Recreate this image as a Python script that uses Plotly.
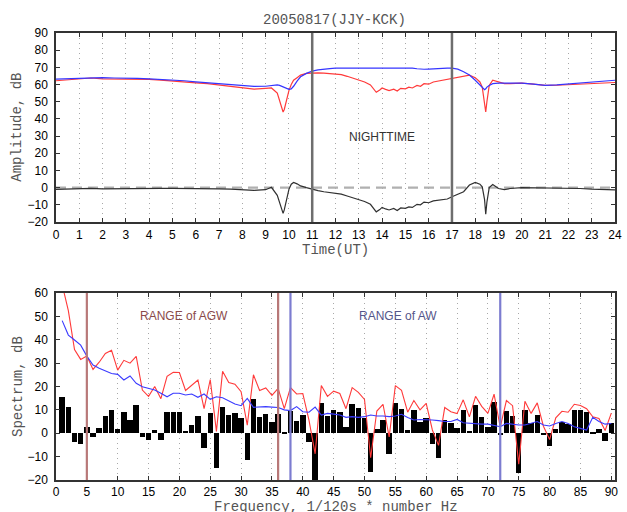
import plotly.graph_objects as go

# ---------------- top panel data (time in UT hours) ----------------
time_ut = [0, 0.5, 1, 1.5, 2, 2.5, 3, 3.5, 4, 4.5, 5, 5.5, 6, 6.5, 7, 7.5, 8, 8.5, 9,
           9.25, 9.5, 9.6, 9.7, 9.75, 9.8, 9.9, 10, 10.1, 10.2, 10.35, 10.5, 10.75,
           11, 11.25, 11.5, 11.75, 12, 12.25, 12.5, 12.75, 13, 13.25, 13.5, 13.65, 13.75, 13.9,
           14, 14.15, 14.3, 14.5, 14.65, 14.8, 15, 15.15, 15.3, 15.5, 15.65, 15.8, 16, 16.2,
           16.4, 16.6, 16.8, 17,
           17.25, 17.5, 17.75, 18, 18.2, 18.3, 18.4, 18.45, 18.5, 18.6, 18.75, 19, 19.25, 19.5,
           20, 20.5, 21, 21.5, 22, 22.5, 23, 23.5, 24]

amp_red = [62.2, 62.6, 63.0, 63.8, 63.3, 63.2, 63.5, 63.4, 63.0, 62.6, 62.2, 61.8, 61.0, 60.5, 59.6, 58.8, 57.9, 57.3, 57.8,
           58.0, 55.0, 51.0, 46.0, 44.0, 45.5, 51.0, 56.5, 60.0, 62.5, 64.0, 65.5, 66.5,
           66.8, 66.8, 66.6, 66.4, 66.2, 65.8, 64.8, 63.8, 62.8, 61.5, 59.8, 57.5, 55.5, 56.8,
           58.0, 57.2, 56.5, 57.3, 56.2, 57.8, 57.5, 58.5, 58.0, 59.5, 59.0, 60.5, 60.2, 61.5,
           62.0, 62.5, 63.0, 63.8,
           64.5, 65.0, 65.5, 64.0, 61.5, 58.5, 50.0, 44.0, 50.0, 59.5, 62.5, 61.5, 60.5, 60.5,
           60.8, 60.2, 59.5, 59.6, 60.0, 60.3, 60.6, 60.9, 61.2]

amp_blue = [63.2, 63.4, 63.6, 64.2, 64.0, 63.8, 63.8, 63.6, 63.3, 63.0, 62.6, 62.2, 61.6, 61.0, 60.3, 59.7, 59.3, 58.9, 59.0,
            59.5, 59.8, 59.5, 59.0, 58.8, 58.5, 57.8, 57.2, 57.5, 59.0, 62.0, 64.5, 66.5,
            67.8, 68.5, 69.0, 69.3, 69.5, 69.6, 69.7, 69.7, 69.6, 69.6, 69.5, 69.5, 69.6, 69.6,
            69.5, 69.6, 69.5, 69.4, 69.5, 69.6, 69.6, 69.7, 69.5, 69.2, 69.0, 68.9, 69.0, 69.2,
            69.3, 69.5, 69.6, 69.5,
            69.0, 67.5, 65.5, 62.5, 59.5, 58.0, 57.0, 57.5, 58.5, 59.5, 60.5, 60.8, 60.8, 61.0,
            60.8, 60.3, 59.5, 59.8, 60.3, 60.8, 61.5, 62.0, 62.5]

amp_diff = [-1.0, -0.8, -0.6, -0.4, -0.7, -0.6, -0.3, -0.2, -0.3, -0.4, -0.4, -0.4, -0.6, -0.5, -0.7, -0.9, -1.4, -1.6, -1.2,
            0.2, -4.5, -8.5, -13.0, -15.0, -13.0, -7.0, -1.0, 2.0, 3.0, 2.2, 1.0, 0.0,
            -1.0, -1.7, -2.4, -2.9, -3.3, -3.8, -4.9, -5.9, -6.8, -8.1, -9.7, -12.0, -14.1, -12.8,
            -11.5, -12.4, -13.0, -12.1, -13.3, -11.8, -12.1, -11.2, -11.5, -9.7, -10.0, -8.4, -8.8, -7.7,
            -7.3, -7.0, -6.6, -5.3,
            -4.0, -2.4, 1.5, 3.0, 2.0, 0.5, -7.0, -15.5, -8.5, 0.0, 1.8, -0.5, -1.2, -0.5,
            0.0, -0.1, 0.0, -0.2, -0.3, -0.5, -0.9, -1.1, -1.3]

night_bounds = [11, 17]

# ---------------- bottom panel data (frequency index 1..90) ----------------
freq = list(range(1, 91))

spec_diff = [15.4, 11.1, -3.9, -4.6, 2.5, -1.5, 2.4, 7.4, 9.8, 1.8,
             8.9, 5.7, 11.9, -1.5, -3.0, 1.4, -3.0, 8.9, 8.9, 8.9,
             1.1, 3.7, 7.4, -6.5, 8.5, -14.7, 11.4, 7.8, 8.5, 6.5,
             -11.4, 14.6, 6.8, 8.3, 4.8, 8.2, 0.7, 9.7, 5.1, 8.0,
             -3.7, -20.5, 13.1, 7.4, 10.0, 9.0, 2.6, 12.4, 10.8, 6.5,
             -16.6, 2.0, 5.6, -8.7, 13.1, 10.4, 1.4, 10.0, 4.8, 6.4,
             -4.4, -10.6, 5.6, 4.5, 2.4, 10.0, 1.1, 11.9, 7.1, 2.8,
             13.5, -0.4, 9.5, 7.4, -16.9, 10.0, 4.2, 7.8, -0.5, -5.5,
             1.8, 4.8, 3.9, 10.0, 10.0, 8.9, 0.3, 1.8, -3.2, 4.5]

spec_blue = [48.2, 42.0, 39.9, 37.7, 33.0, 29.2, 27.8, 26.6, 25.6, 25.2,
             22.8, 24.5, 21.4, 19.9, 19.2, 18.5, 17.1, 15.6, 17.1, 17.1,
             16.4, 16.8, 15.4, 16.8, 14.5, 15.6, 15.2, 13.9, 12.5, 11.8,
             14.9, 11.1, 11.4, 11.4, 11.2, 11.0, 10.0, 9.7, 11.4, 9.2,
             9.0, 11.2, 7.8, 8.5, 8.2, 7.8, 6.8, 7.1, 6.8, 7.1,
             7.8, 7.4, 7.4, 7.1, 7.4, 8.1, 6.7, 5.7, 5.9, 5.9,
             5.7, 5.4, 5.0, 5.0, 5.9, 4.5, 4.2, 4.2, 3.9, 3.9,
             3.5, 2.8, 4.2, 3.8, 3.5, 3.5, 4.2, 5.0, 3.5, 3.1,
             4.2, 5.0, 4.2, 2.8, 2.1, 1.4, 6.8, 5.0, 3.9, 4.2]

spec_red = [63.6, 52.5, 35.8, 31.6, 33.0, 27.3, 30.4, 34.1, 35.5, 27.0,
            31.2, 30.0, 32.9, 18.5, 15.8, 20.0, 14.8, 24.4, 26.1, 26.0,
            18.3, 20.5, 22.8, 10.5, 23.0, 0.8, 26.5, 21.7, 21.0, 17.8,
            3.5, 25.0, 18.3, 19.4, 16.2, 19.2, 10.5, 19.5, 16.8, 17.0,
            5.6, -8.8, 20.4, 15.8, 18.0, 17.0, 10.5, 19.5, 17.5, 14.5,
            -10.5, 9.5, 12.4, -1.6, 20.4, 18.4, 9.0, 14.0, 10.0, 12.8,
            1.4, -5.2, 11.0, 9.2, 8.4, 14.3, 7.0, 15.8, 11.5, 8.5,
            16.7, 2.6, 14.0, 11.8, -13.2, 13.7, 8.5, 13.0, 3.0, -2.7,
            6.6, 9.4, 9.0, 12.4, 11.9, 10.5, 7.0, 6.3, 1.2, 8.6]

agw_bounds = [5, 36]
aw_bounds = [38, 72]

fig = go.Figure()

# ---- top panel traces
fig.add_trace(go.Scatter(x=[0, 24], y=[0, 0], mode="lines",
                         line=dict(color="#b0b0b0", width=2.2, dash="10px,6px"),
                         xaxis="x", yaxis="y", hoverinfo="skip"))
fig.add_trace(go.Scatter(x=time_ut, y=amp_red, mode="lines",
                         line=dict(color="#ff3a3a", width=1.2), xaxis="x", yaxis="y"))
fig.add_trace(go.Scatter(x=time_ut, y=amp_blue, mode="lines",
                         line=dict(color="#3535ff", width=1.2), xaxis="x", yaxis="y"))
fig.add_trace(go.Scatter(x=time_ut, y=amp_diff, mode="lines",
                         line=dict(color="#303030", width=1.2), xaxis="x", yaxis="y"))

# ---- bottom panel traces
fig.add_trace(go.Bar(x=freq, y=spec_diff, width=0.88, marker=dict(color="black", line=dict(width=0)),
                     xaxis="x2", yaxis="y2"))
fig.add_trace(go.Scatter(x=freq, y=spec_red, mode="lines",
                         line=dict(color="#ff3a3a", width=1.1), xaxis="x2", yaxis="y2"))
fig.add_trace(go.Scatter(x=freq, y=spec_blue, mode="lines",
                         line=dict(color="#3a3aff", width=1.1), xaxis="x2", yaxis="y2"))

shapes = []
for b in night_bounds:
    shapes.append(dict(type="line", xref="x", yref="y domain", x0=b, x1=b, y0=0, y1=1,
                       line=dict(color="#6e6e6e", width=2.5), layer="above"))
for b in agw_bounds:
    shapes.append(dict(type="line", xref="x2", yref="y2 domain", x0=b, x1=b, y0=0, y1=1,
                       line=dict(color="#b87878", width=2.2), layer="above"))
for b in aw_bounds:
    shapes.append(dict(type="line", xref="x2", yref="y2 domain", x0=b, x1=b, y0=0, y1=1,
                       line=dict(color="#7c7cd0", width=2.2), layer="above"))

mono = "Liberation Mono, Courier New, monospace"
sans = "Liberation Sans, Arial, sans-serif"

annotations = [
    dict(text="20050817(JJY-KCK)", xref="paper", yref="paper", x=0.498, y=1.029,
         xanchor="center", yanchor="middle", showarrow=False, font=dict(family=mono, size=14, color="#555555")),
    dict(text="Time(UT)", xref="paper", yref="paper", x=0.50, y=0.514,
         xanchor="center", yanchor="middle", showarrow=False, font=dict(family=mono, size=14, color="#555555")),
    dict(text="Frequency, 1/120s * number Hz", xref="paper", yref="paper", x=0.50, y=-0.061,
         xanchor="center", yanchor="middle", showarrow=False, font=dict(family=mono, size=14, color="#555555")),
    dict(text="Amplitude, dB", xref="paper", yref="paper", x=-0.069, y=0.789, textangle=-90,
         xanchor="center", yanchor="middle", showarrow=False, font=dict(family=mono, size=14, color="#555555")),
    dict(text="Spectrum, dB", xref="paper", yref="paper", x=-0.069, y=0.209, textangle=-90,
         xanchor="center", yanchor="middle", showarrow=False, font=dict(family=mono, size=14, color="#555555")),
    dict(text="NIGHTTIME", xref="x", yref="y", x=14.0, y=29.5, xanchor="center", yanchor="middle",
         showarrow=False, font=dict(family=sans, size=12, color="#333333")),
    dict(text="RANGE of AGW", xref="x2", yref="y2", x=20.7, y=50, xanchor="center", yanchor="middle",
         showarrow=False, font=dict(family=sans, size=12, color="#8a4a4a")),
    dict(text="RANGE of AW", xref="x2", yref="y2", x=55.5, y=50, xanchor="center", yanchor="middle",
         showarrow=False, font=dict(family=sans, size=12, color="#55558a")),
]

axis_common = dict(showline=True, linecolor="#333333", linewidth=1.5, mirror="ticks",
                   ticks="inside", ticklen=4, tickcolor="#333333", zeroline=False,
                   tickfont=dict(family=sans, size=12, color="black"))

fig.update_layout(
    width=627, height=512,
    margin=dict(l=56, r=5, t=33, b=32),
    paper_bgcolor="white", plot_bgcolor="white",
    showlegend=False, bargap=0,
    shapes=shapes, annotations=annotations,
    xaxis=dict(domain=[0, 1], anchor="y", range=[0, 24], tickmode="linear", tick0=0, dtick=1,
               showgrid=True, gridcolor="#a8a8a8", griddash="1px,4px", gridwidth=1,
               ticklabelstandoff=1, **axis_common),
    yaxis=dict(domain=[0.5772, 1], anchor="x", range=[-20, 90], tickmode="linear", tick0=-20, dtick=10,
               showgrid=False, ticklabelstandoff=4, **axis_common),
    xaxis2=dict(domain=[0, 1], anchor="y2", range=[0, 90.6], tickmode="linear", tick0=0, dtick=5,
                showgrid=True, gridcolor="#a8a8a8", griddash="1px,4px", gridwidth=1,
                ticklabelstandoff=0, **axis_common),
    yaxis2=dict(domain=[0, 0.4183], anchor="x2", range=[-20, 60], tickmode="linear", tick0=-20, dtick=10,
                showgrid=False, ticklabelstandoff=4, **axis_common),
)

fig.write_html("out.html")
